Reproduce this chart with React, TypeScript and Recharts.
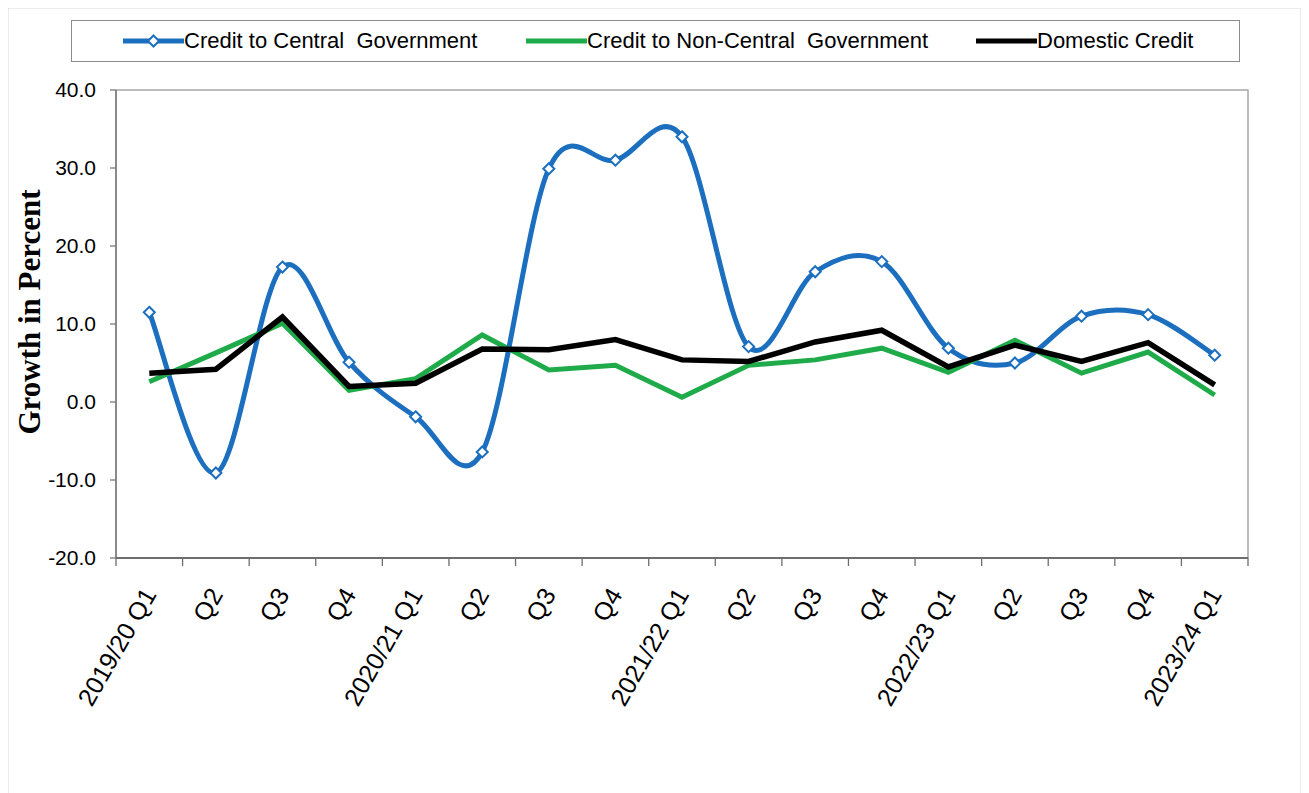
import { LineChart, Line, XAxis, YAxis, ReferenceArea } from 'recharts';

const QUARTERS = [
  '2019/20 Q1', 'Q2', 'Q3', 'Q4',
  '2020/21 Q1', 'Q2', 'Q3', 'Q4',
  '2021/22 Q1', 'Q2', 'Q3', 'Q4',
  '2022/23 Q1', 'Q2', 'Q3', 'Q4',
  '2023/24 Q1',
];
const CENTRAL = [11.5, -9.1, 17.3, 5.1, -1.9, -6.4, 29.9, 31.0, 34.0, 7.1, 16.7, 18.0, 6.9, 5.0, 11.0, 11.2, 6.0];
const NON_CENTRAL = [2.6, 6.3, 10.1, 1.5, 3.0, 8.6, 4.1, 4.7, 0.6, 4.7, 5.4, 6.9, 3.8, 7.9, 3.7, 6.4, 0.9];
const DOMESTIC = [3.7, 4.2, 10.9, 2.0, 2.4, 6.8, 6.7, 8.0, 5.4, 5.2, 7.7, 9.2, 4.5, 7.3, 5.2, 7.6, 2.2];
const Y_TICKS = [-20, -10, 0, 10, 20, 30, 40];

const SERIES = [
  { key: 'central', name: 'Credit to Central  Government', color: '#1c6fbf' },
  { key: 'nonCentral', name: 'Credit to Non-Central  Government', color: '#1fab4a' },
  { key: 'domestic', name: 'Domestic Credit', color: '#000000' },
];

// each quarter sits in the middle of its slot; slot edges get the tick marks
const data = QUARTERS.map((q, i) => ({
  x: i + 0.5,
  q,
  central: CENTRAL[i],
  nonCentral: NON_CENTRAL[i],
  domestic: DOMESTIC[i],
}));
const xTicks: number[] = [];
for (let i = 0; i <= QUARTERS.length; i++) {
  xTicks.push(i);
  if (i < QUARTERS.length) xTicks.push(i + 0.5);
}

const FONT = '"Liberation Sans", Arial, sans-serif';

// Excel-style smoothed line (Catmull-Rom as cubic beziers)
function excelSmooth(context: any) {
  let pts: number[][] = [];
  return {
    areaStart() {},
    areaEnd() {},
    lineStart() {
      pts = [];
    },
    point(x: number, y: number) {
      pts.push([+x, +y]);
    },
    lineEnd() {
      const n = pts.length;
      if (!n) return;
      context.moveTo(pts[0][0], pts[0][1]);
      for (let i = 0; i < n - 1; i++) {
        const p0 = pts[Math.max(i - 1, 0)];
        const p1 = pts[i];
        const p2 = pts[i + 1];
        const p3 = pts[Math.min(i + 2, n - 1)];
        context.bezierCurveTo(
          p1[0] + (p2[0] - p0[0]) / 6, p1[1] + (p2[1] - p0[1]) / 6,
          p2[0] - (p3[0] - p1[0]) / 6, p2[1] - (p3[1] - p1[1]) / 6,
          p2[0], p2[1],
        );
      }
    },
  };
}

function Diamond(props: any) {
  const { cx, cy, index } = props;
  const r = 5.5;
  return (
    <path
      key={index}
      d={`M${cx},${cy - r}L${cx + r},${cy}L${cx},${cy + r}L${cx - r},${cy}Z`}
      fill="#fff"
      stroke="#1c6fbf"
      strokeWidth={2}
    />
  );
}

function XTick(props: any) {
  const { x, y, payload } = props;
  const v = payload.value as number;
  if (Number.isInteger(v)) {
    return <line x1={x} y1={y} x2={x} y2={y + 8} stroke="#6e6e6e" strokeWidth={1.3} />;
  }
  return (
    <text
      transform={`translate(${x},${y + 32}) rotate(-60)`}
      textAnchor="end"
      dominantBaseline="central"
      fontSize={25}
      fontFamily={FONT}
      fill="#000"
    >
      {QUARTERS[Math.floor(v)]}
    </text>
  );
}

function YTitle() {
  const cx = 29;
  const cy = 312;
  return (
    <text
      x={cx}
      y={cy}
      transform={`rotate(-90 ${cx} ${cy})`}
      textAnchor="middle"
      dominantBaseline="central"
      fontSize={31}
      fontWeight="bold"
      fontFamily='"Liberation Serif", "Times New Roman", serif'
      fill="#000"
    >
      Growth in Percent
    </text>
  );
}

function LegendBox() {
  const lefts = [51, 454, 904];
  return (
    <div
      style={{
        position: 'absolute', left: 71, top: 20, width: 1167, height: 40,
        border: '1.5px solid #8c8c8c', background: '#fff', zIndex: 2,
      }}
    >
      {SERIES.map((s, i) => (
        <div
          key={s.key}
          style={{
            position: 'absolute', left: lefts[i], top: 0, height: 40,
            display: 'flex', alignItems: 'center', whiteSpace: 'pre',
          }}
        >
          <svg width={61} height={14}>
            <line x1={0} y1={7} x2={61} y2={7} stroke={s.color} strokeWidth={5} />
            {i === 0 && (
              <path d="M30.5,1.5L36,7L30.5,12.5L25,7Z" fill="#fff" stroke={s.color} strokeWidth={2} />
            )}
          </svg>
          <span style={{ fontSize: 22, fontFamily: FONT, color: '#000' }}>{s.name}</span>
        </div>
      ))}
    </div>
  );
}

export default function App() {
  return (
    <div style={{ position: 'relative', width: 1309, height: 793, marginLeft: -8, marginTop: -8, overflow: 'hidden', background: '#fff' }}>
      <LegendBox />
      <div style={{ position: 'absolute', left: 0, top: 0 }}>
        <LineChart
          width={1309}
          height={793}
          data={data}
          margin={{ top: 90, right: 61, bottom: 85, left: 0 }}
          style={{ fontFamily: FONT }}
        >
          <ReferenceArea x1={0} x2={17} y1={-20} y2={40} fill="none" stroke="#a6a6a6" strokeWidth={1.5} />
          <XAxis
            type="number"
            dataKey="x"
            domain={[0, 17]}
            ticks={xTicks}
            interval={0}
            height={150}
            tickSize={0}
            tickMargin={0}
            tickLine={false}
            tick={XTick}
            axisLine={{ stroke: '#6e6e6e', strokeWidth: 2 }}
          />
          <YAxis
            type="number"
            domain={[-20, 40]}
            ticks={Y_TICKS}
            interval={0}
            width={116}
            tickSize={6}
            tickMargin={14}
            tickFormatter={(v: number) => v.toFixed(1)}
            tick={{ fontSize: 21, fill: '#000', fontFamily: FONT }}
            tickLine={{ stroke: '#7a7a7a', strokeWidth: 1.3 }}
            axisLine={{ stroke: '#7a7a7a', strokeWidth: 1.5 }}
            label={{ content: YTitle }}
          />
          <Line
            dataKey="central"
            type={excelSmooth as any}
            stroke="#1c6fbf"
            strokeWidth={5}
            dot={Diamond}
            activeDot={false}
            isAnimationActive={false}
          />
          <Line
            dataKey="nonCentral"
            type="linear"
            stroke="#1fab4a"
            strokeWidth={5}
            dot={false}
            activeDot={false}
            isAnimationActive={false}
          />
          <Line
            dataKey="domestic"
            type="linear"
            stroke="#000"
            strokeWidth={5.5}
            dot={false}
            activeDot={false}
            isAnimationActive={false}
          />
        </LineChart>
      </div>
      <svg
        width={1309}
        height={793}
        style={{ position: 'absolute', left: 0, top: 0, zIndex: 3, pointerEvents: 'none' }}
      >
        <path d="M7,800 L7,7 L1302,7 L1302,800" fill="none" stroke="#b4b4b4" strokeWidth={2.5} />
      </svg>
    </div>
  );
}
